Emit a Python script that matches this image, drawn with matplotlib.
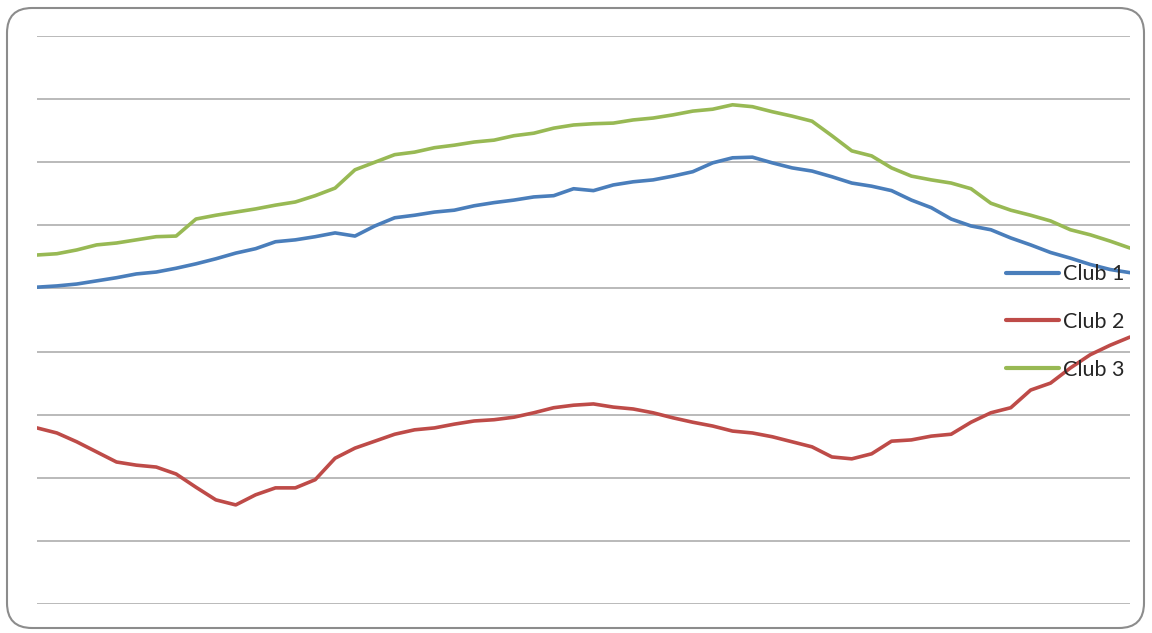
import matplotlib
matplotlib.use('Agg')
from matplotlib import pyplot as plt
from matplotlib.patches import FancyBboxPatch
import numpy as np

# weekly standings for the three clubs
club_1 = [50.2, 50.4, 50.7, 51.2, 51.7, 52.3, 52.6, 53.2, 53.9, 54.7,
          55.6, 56.3, 57.4, 57.7, 58.2, 58.8, 58.3, 59.9, 61.2, 61.6,
          62.1, 62.4, 63.1, 63.6, 64.0, 64.5, 64.7, 65.8, 65.5, 66.4,
          66.9, 67.2, 67.8, 68.5, 69.9, 70.7, 70.8, 69.9, 69.1, 68.6,
          67.7, 66.7, 66.2, 65.5, 64.0, 62.8, 61.0, 59.9, 59.3, 58.0,
          56.9, 55.7, 54.8, 53.8, 53.0, 52.5]
club_2 = [27.9, 27.1, 25.7, 24.1, 22.5, 22.0, 21.7, 20.6, 18.5, 16.5,
          15.7, 17.3, 18.4, 18.4, 19.7, 23.1, 24.7, 25.8, 26.9, 27.6,
          27.9, 28.5, 29.0, 29.2, 29.6, 30.3, 31.1, 31.5, 31.7, 31.2,
          30.9, 30.3, 29.5, 28.8, 28.2, 27.4, 27.1, 26.5, 25.7, 24.9,
          23.3, 23.0, 23.8, 25.8, 26.0, 26.6, 26.9, 28.8, 30.3, 31.1,
          33.9, 35.0, 37.4, 39.5, 41.0, 42.3]
club_3 = [55.3, 55.5, 56.1, 56.9, 57.2, 57.7, 58.2, 58.3, 61.0, 61.6,
          62.1, 62.6, 63.2, 63.7, 64.7, 65.9, 68.8, 70.0, 71.2, 71.6,
          72.3, 72.7, 73.2, 73.5, 74.2, 74.6, 75.4, 75.9, 76.1, 76.2,
          76.7, 77.0, 77.5, 78.1, 78.4, 79.1, 78.8, 78.0, 77.3, 76.5,
          74.2, 71.8, 71.0, 69.1, 67.8, 67.2, 66.7, 65.8, 63.5, 62.4,
          61.6, 60.7, 59.3, 58.5, 57.5, 56.4]
labels = ['Club 1', 'Club 2', 'Club 3']
colors = ['#4a7ebb', '#be4b48', '#98b954']

weeks = np.arange(len(club_1))

fig = plt.figure(figsize=(11.52, 6.33), dpi=100)
ax = fig.add_axes([37 / 1152, 1 - 604 / 633, (1130 - 37) / 1152, 568 / 633])

for vals, lbl, col in zip([club_1, club_2, club_3], labels, colors):
    ax.plot(weeks, vals, color=col, linewidth=2.6, label=lbl, solid_capstyle='round')

ax.set_xlim(0, len(club_1) - 1)
ax.set_ylim(0, 90)
ax.set_yticks(np.arange(0, 91, 10))
ax.yaxis.grid(True, color='#b4b4b4', linewidth=1.3)
ax.set_axisbelow(True)
ax.tick_params(left=False, bottom=False, labelleft=False, labelbottom=False)
for s in ax.spines.values():
    s.set_visible(False)
ax.patch.set_alpha(0)

leg = ax.legend(loc='upper left', bbox_to_anchor=(960 / 1093, 0.613), frameon=False,
                prop={'family': 'Lato', 'size': 15.5}, handlelength=2.5,
                handletextpad=0.15, labelspacing=1.28, borderaxespad=0)
for h in leg.get_lines():
    h.set_linewidth(3)
for t in leg.get_texts():
    t.set_color('#262626')

# rounded chart border
frame = FancyBboxPatch((0.07, 0.05), 11.37, 6.2, transform=fig.dpi_scale_trans,
                       boxstyle='round,pad=0,rounding_size=0.25',
                       facecolor='none', edgecolor='#8c8c8c', linewidth=1.5)
fig.patches.append(frame)

fig.savefig('out.png', dpi=100)
